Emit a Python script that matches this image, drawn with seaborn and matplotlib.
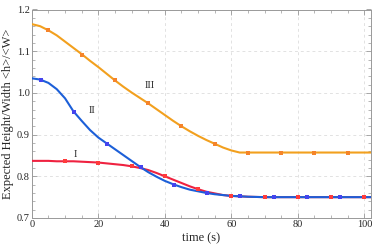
import numpy as np
import pandas as pd
import seaborn as sns
import matplotlib.pyplot as plt
from matplotlib.ticker import MultipleLocator

# curves (time in s)
t_line = [0, 2.5, 5, 7.5, 10, 12.5, 15, 17.5, 20, 22.5, 25, 27.5, 30, 32.5, 35, 37.5,
          40, 42.5, 45, 47.5, 50, 52.5, 55, 57.5, 60, 62.5, 65, 70, 75, 80, 85, 90, 95, 100, 102]
red_line = [0.837, 0.837, 0.837, 0.836, 0.836, 0.836, 0.835, 0.834, 0.833, 0.831, 0.829, 0.827,
            0.824, 0.820, 0.815, 0.808, 0.800, 0.792, 0.784, 0.776, 0.769, 0.763, 0.759, 0.755,
            0.753, 0.752, 0.751, 0.750, 0.750, 0.750, 0.750, 0.750, 0.750, 0.750, 0.750]
blue_line = [1.035, 1.032, 1.024, 1.009, 0.987, 0.956, 0.933, 0.911, 0.893, 0.879, 0.865, 0.851,
             0.837, 0.823, 0.810, 0.799, 0.789, 0.781, 0.774, 0.768, 0.764, 0.760, 0.757, 0.755,
             0.753, 0.752, 0.751, 0.750, 0.750, 0.750, 0.750, 0.750, 0.750, 0.750, 0.750]
orange_line = [1.165, 1.160, 1.150, 1.138, 1.123, 1.108, 1.093, 1.077, 1.062, 1.046, 1.030, 1.015,
               1.001, 0.988, 0.975, 0.961, 0.947, 0.933, 0.920, 0.908, 0.897, 0.887, 0.878, 0.869,
               0.862, 0.857, 0.857, 0.857, 0.857, 0.857, 0.857, 0.857, 0.857, 0.857, 0.857]

# sample points (squares)
t_red = [10, 20, 30, 40, 50, 60, 70, 80, 90, 100]
v_red = [0.836, 0.833, 0.825, 0.800, 0.769, 0.753, 0.750, 0.750, 0.750, 0.750]
t_blue = [2.75, 12.75, 22.75, 32.75, 42.75, 52.75, 62.75, 72.75, 82.75, 92.75, 102.75]
v_blue = [1.031, 0.953, 0.878, 0.822, 0.780, 0.760, 0.752, 0.750, 0.750, 0.750, 0.750]
t_orange = [5, 15, 25, 35, 45, 55, 65, 75, 85, 95]
v_orange = [1.150, 1.092, 1.030, 0.975, 0.920, 0.878, 0.857, 0.857, 0.857, 0.857]

labels = ['I', 'II', 'III']
label_t = [13.2, 18.2, 35.5]
label_v = [0.852, 0.957, 1.018]

sns.set_style('ticks')
plt.rcParams['font.family'] = ['Liberation Serif', 'DejaVu Serif']

fig, ax = plt.subplots(figsize=(3.74, 2.5), dpi=100)
fig.subplots_adjust(left=0.085, right=0.992, top=0.962, bottom=0.128)

# slightly wide square marker
rect = [(-1.25, -1), (1.25, -1), (1.25, 1), (-1.25, 1), (-1.25, -1)]

series = [
    (red_line, t_red, v_red, '#ef2240', '#ff3b3b'),
    (blue_line, t_blue, v_blue, '#1c5fd8', '#4444ee'),
    (orange_line, t_orange, v_orange, '#f2a01e', '#f5842a'),
]
for line, tm, vm, lc, mc in series:
    df = pd.DataFrame({'t': t_line, 'v': line})
    sns.lineplot(data=df, x='t', y='v', ax=ax, color=lc, lw=1.5, zorder=3)
    dm = pd.DataFrame({'t': tm, 'v': vm})
    sns.scatterplot(data=dm, x='t', y='v', ax=ax, color=mc, marker=rect, s=11,
                    linewidth=0, zorder=4)

for lab, tx, vy in zip(labels, label_t, label_v):
    ax.text(tx, vy, lab, fontsize=7.5, ha='center', va='center')

ax.set_xlim(0, 102)
ax.set_ylim(0.7, 1.2)
ax.xaxis.set_major_locator(MultipleLocator(20))
ax.xaxis.set_minor_locator(MultipleLocator(5))
ax.yaxis.set_major_locator(MultipleLocator(0.1))
ax.yaxis.set_minor_locator(MultipleLocator(0.02))
ax.grid(True, which='major', ls=(0, (3, 3)), color='#e2e2e2', lw=0.7)
ax.set_axisbelow(True)

ax.tick_params(which='both', direction='in', top=True, right=True, color='#999999',
               labelsize=7.5, pad=1.5)
ax.tick_params(which='major', length=3.5, width=0.6)
ax.tick_params(which='minor', length=2, width=0.5)
for s in ax.spines.values():
    s.set_color('#999999')
    s.set_linewidth(0.7)

ax.set_xlabel('time (s)', fontsize=9, labelpad=2)
ax.set_ylabel('Expected Height/Width <h>/<W>', fontsize=9, labelpad=2)

fig.savefig('out.png', dpi=100)
